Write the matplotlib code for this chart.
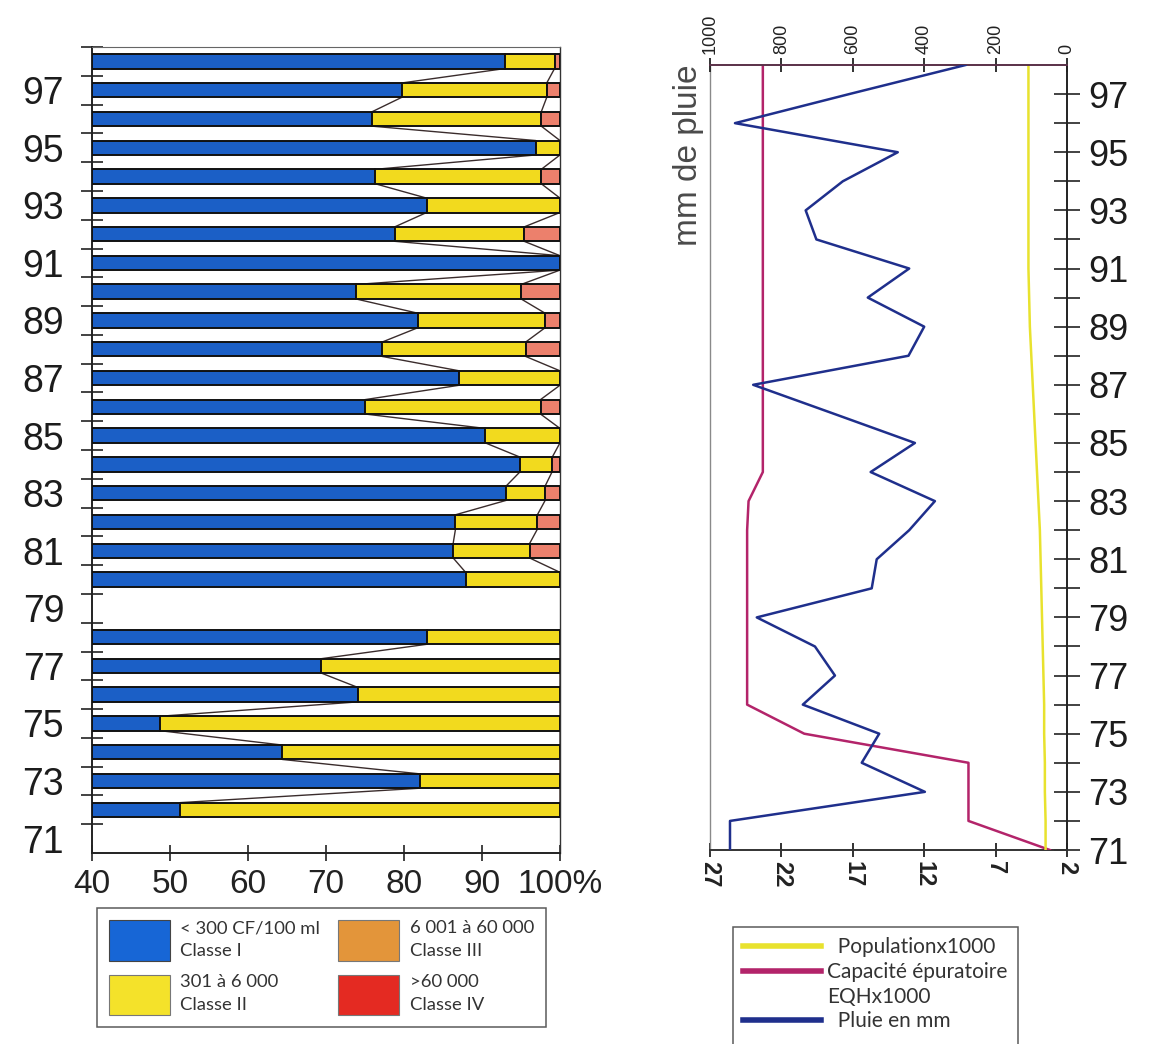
import numpy as np
import matplotlib
matplotlib.use("Agg")
import matplotlib.pyplot as plt
from matplotlib.patches import Patch
from matplotlib.lines import Line2D
from matplotlib import font_manager as fm


def pick(names):
    for n in names:
        try:
            fm.findfont(fm.FontProperties(family=n), fallback_to_default=False)
            return n
        except Exception:
            pass
    return "DejaVu Sans"


SANS = pick(["Liberation Sans", "Arial", "DejaVu Sans"])
NARROW = pick(["Liberation Sans Narrow", "Liberation Sans", "DejaVu Sans"])
LEGF = pick(["Lato", "Open Sans", "DejaVu Sans"])

# ---------------- data: bacteriological classes (% of samples) ----------------
bar_years = [72, 73, 74, 75, 76, 77, 78, 80, 81, 82, 83, 84, 85, 86, 87, 88, 89,
             90, 91, 92, 93, 94, 95, 96, 97, 98]
classe_I = [51.3, 82.0, 64.4, 48.7, 74.1, 69.4, 82.9, 87.9, 86.3, 86.6, 93.1, 94.9,
            90.4, 75.0, 87.1, 77.2, 81.8, 73.8, 100.0, 78.8, 82.9, 76.3, 96.9, 75.9,
            79.7, 92.9]
classe_II = [48.7, 18.0, 35.6, 51.3, 25.9, 30.6, 17.1, 12.1, 9.8, 10.5, 5.0, 4.1,
             9.6, 22.5, 12.9, 18.4, 16.3, 21.2, 0.0, 16.6, 17.1, 21.3, 3.1, 21.7,
             18.6, 6.4]
classe_IV = [0, 0, 0, 0, 0, 0, 0, 0, 3.9, 2.9, 1.9, 1.0, 0, 2.5, 0, 4.4, 1.9, 5.0,
             0, 4.6, 0, 2.4, 0, 2.4, 1.7, 0.7]
x_ticks = [40, 50, 60, 70, 80, 90, 100]
x_ticklabels = ["40", "50", "60", "70", "80", "90", "100%"]
legend_left_labels = ["< 300 CF/100 ml\nClasse I", "301 à 6 000\nClasse II",
                      "6 001 à 60 000\nClasse III", ">60 000\nClasse IV"]

# ---------------- data: right chart ----------------
line_years = list(range(71, 99))
pluie_mm = [944, 944, 398, 575, 526, 740, 650, 706, 869, 547, 533, 442, 370, 550,
            426, 652, 879, 444, 400, 558, 442, 702, 732, 628, 474, 930, 610, 284]
capacite = [3.2, 8.9, 8.9, 8.9, 20.4, 24.4, 24.4, 24.4, 24.4, 24.4, 24.4, 24.4, 24.3,
            23.3, 23.3, 23.3, 23.3, 23.3, 23.3, 23.3, 23.3, 23.3, 23.3, 23.3, 23.3,
            23.3, 23.3, 23.3]
population = [3.5, 3.5, 3.55, 3.55, 3.6, 3.6, 3.65, 3.7, 3.75, 3.8, 3.85, 3.9, 4.0,
              4.1, 4.2, 4.3, 4.4, 4.5, 4.6, 4.65, 4.7, 4.7, 4.7, 4.7, 4.7, 4.7, 4.7, 4.7]
rain_ticks = [1000, 800, 600, 400, 200, 0]
bottom_ticks = [27, 22, 17, 12, 7, 2]
year_ticks = list(range(71, 98))
year_ticklabels = [str(v) if v % 2 == 1 else "" for v in year_ticks]

BLUE = "#1b5fc6"
YEL = "#f2da1e"
SALMON = "#ec806c"
L_BLUE = "#1766d6"
L_ORANGE = "#e3953a"
L_YEL = "#f4e22a"
L_RED = "#e42a22"
MAG = "#b3246a"
POPY = "#e8e22e"
NAVY = "#1f2f8c"
TXT = "#1c1c1c"

W, H = 1149, 1044
fig = plt.figure(figsize=(W / 100, H / 100), dpi=100)

# ======================= LEFT CHART =======================
ax1 = fig.add_axes([92 / W, 1 - 853 / H, (560 - 92) / W, (853 - 47) / H])
ax1.set_xlim(40, 100)
ax1.set_ylim(70.5, 98.5)

y = np.array(bar_years, dtype=float)
I = np.array(classe_I)
II = np.array(classe_II)
IV = np.array(classe_IV)
h = 0.5
ek = dict(edgecolor="#111111", linewidth=1.4, zorder=3)
ax1.barh(y, I - 40, left=40, height=h, color=BLUE, **ek)
m2 = II > 0
ax1.barh(y[m2], II[m2], left=I[m2], height=h, color=YEL, **ek)
m4 = IV > 0
ax1.barh(y[m4], IV[m4], left=(I + II)[m4], height=h, color=SALMON, **ek)

# zig-zag lines linking the class boundaries from one bar to the next
full = list(range(int(min(bar_years)), int(max(bar_years)) + 1))
for bound in (I, I + II):
    lookup = dict(zip(bar_years, bound))
    xs, ys = [], []
    for yr in full:
        if yr in lookup:
            xs += [lookup[yr], lookup[yr]]
            ys += [yr - h / 2, yr + h / 2]
        else:
            xs.append(np.nan)
            ys.append(np.nan)
    ax1.plot(xs, ys, color="#3a2c2c", lw=1.0, zorder=2)

ax1.set_xticks(x_ticks)
ax1.set_xticklabels(x_ticklabels, fontsize=24, family=SANS, color=TXT)
ax1.tick_params(axis="x", direction="inout", length=11, width=1.2, pad=6, colors="#222")
ax1.set_yticks(np.arange(71.5, 98.6, 1.0))
ax1.set_yticklabels([])
ax1.tick_params(axis="y", which="major", direction="inout", length=16, width=1.2, color="#222")
odd = list(range(71, 98, 2))
ax1.set_yticks(odd, minor=True)
ax1.set_yticklabels([str(v) for v in odd], minor=True, fontsize=27, family=SANS, color=TXT)
ax1.tick_params(axis="y", which="minor", length=0, pad=20)
for s, lw, c in (("left", 1.4, "#222"), ("bottom", 1.4, "#222"), ("top", 0.8, "#666"), ("right", 1.0, "#333")):
    ax1.spines[s].set_linewidth(lw)
    ax1.spines[s].set_color(c)

leg1 = fig.legend(
    handles=[Patch(facecolor=L_BLUE, edgecolor="#444", lw=0.8),
             Patch(facecolor=L_YEL, edgecolor="#777", lw=0.8),
             Patch(facecolor=L_ORANGE, edgecolor="#777", lw=0.8),
             Patch(facecolor=L_RED, edgecolor="#777", lw=0.8)],
    labels=[legend_left_labels[0], legend_left_labels[1], legend_left_labels[2], legend_left_labels[3]],
    ncol=2, loc="upper left", bbox_to_anchor=(97 / W, 1 - 908 / H), borderaxespad=0,
    frameon=True, fancybox=False, edgecolor="#333",
    prop={"family": LEGF, "size": 13.3}, handlelength=3.3, handleheight=3.0,
    handletextpad=0.55, columnspacing=1.0, labelspacing=0.75, borderpad=0.65)
leg1.get_frame().set_linewidth(1.1)
for t in leg1.get_texts():
    t.set_color("#333")
    t.set_linespacing(1.5)

# ======================= RIGHT CHART =======================
ax2 = fig.add_axes([710 / W, 1 - 850 / H, 357 / W, 785 / H])
ax2.set_xlim(27, 2)
ax2.set_ylim(71, 98)
ax2.plot(capacite, line_years, color=MAG, lw=1.8, zorder=3)
ax2.plot(population, line_years, color=POPY, lw=1.8, zorder=3)

ax3 = ax2.twiny()
ax3.set_xlim(1000, 0)
ax3.plot(pluie_mm, line_years, color=NAVY, lw=1.8, zorder=4)

ax2.set_xticks(bottom_ticks)
ax2.set_xticklabels([str(v) for v in bottom_ticks], rotation=270, fontsize=17,
                    family=NARROW, fontweight="bold", color=TXT)
ax2.tick_params(axis="x", direction="inout", length=10, width=1.3, pad=3, colors="#222")

ax3.set_xticks(rain_ticks)
ax3.set_xticklabels([str(v) for v in rain_ticks], rotation=90, fontsize=13,
                    family=NARROW, color=TXT)
ax3.tick_params(axis="x", direction="inout", length=10, width=1.3, pad=3, colors="#222")

ax2.yaxis.tick_right()
ax2.yaxis.remove_overlapping_locs = False
ax2.set_yticks(year_ticks)
ax2.set_yticklabels(year_ticklabels, fontsize=26, family=SANS, color=TXT)
ax2.tick_params(axis="y", which="major", direction="inout", length=19, width=1.2,
                color="#222", left=False, right=True, labelleft=False, labelright=True, pad=6)

ax2.spines["top"].set_visible(False)
ax2.spines["left"].set_color("#8a8a8a")
ax2.spines["left"].set_linewidth(1.0)
ax2.spines["right"].set_linewidth(1.4)
ax2.spines["right"].set_color("#222")
ax2.spines["bottom"].set_linewidth(1.4)
ax2.spines["bottom"].set_color("#333")
for s in ("left", "right", "bottom"):
    ax3.spines[s].set_visible(False)
ax3.spines["top"].set_color("#5a3048")
ax3.spines["top"].set_linewidth(1.4)

fig.text(688 / W, 1 - 155 / H, "mm de pluie", rotation=90, ha="center", va="center",
         fontsize=24, family=SANS, color="#4a4a4a")

leg2 = fig.legend(
    handles=[Line2D([], [], color=POPY, lw=4),
             Line2D([], [], color=MAG, lw=4),
             Line2D([], [], color="none"),
             Line2D([], [], color=NAVY, lw=4),
             Line2D([], [], color="none")],
    labels=["  Populationx1000", "Capacité épuratoire", "EQHx1000", "  Pluie en mm", " "],
    loc="upper left", bbox_to_anchor=(733 / W, 1 - 927 / H), borderaxespad=0,
    frameon=True, fancybox=False, edgecolor="#333", prop={"family": LEGF, "size": 15},
    handlelength=3.7, handletextpad=0.3, labelspacing=0.22, borderpad=0.5)
leg2.get_frame().set_linewidth(1.1)
for t in leg2.get_texts():
    t.set_color("#333")

fig.savefig("out.png", dpi=100)
